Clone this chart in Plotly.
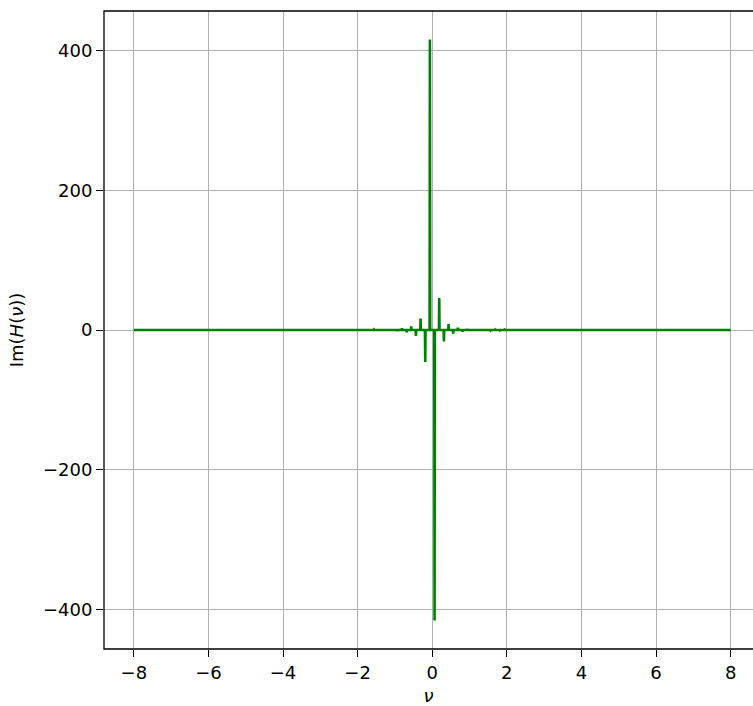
import plotly.graph_objects as go

# frequency of each nonzero spectral line and imaginary part of H(nu) there
peak_nu = [-1.9375, -1.8125, -1.6875, -1.5625, -1.4375, -1.3125, -1.1875, -1.0625,
           -0.9375, -0.8125, -0.6875, -0.5625, -0.4375, -0.3125, -0.1875, -0.0625,
           0.0625, 0.1875, 0.3125, 0.4375, 0.5625, 0.6875, 0.8125, 0.9375,
           1.0625, 1.1875, 1.3125, 1.4375, 1.5625, 1.6875, 1.8125, 1.9375]
peak_im = [-0.43, 0.5, -0.55, 0.65, -0.8, 0.95, -1.15, 1.4,
           -1.8, 2.5, -3.4, 5.1, -8.5, 16.6, -46.0, 416.0,
           -416.0, 46.0, -16.6, 8.5, -5.1, 3.4, -2.5, 1.8,
           -1.4, 1.15, -0.95, 0.8, -0.65, 0.55, -0.5, 0.43]
nu_min, nu_max = -8.0, 8.0
bin_half_width = 0.008  # spectral resolution: neighbouring samples are zero

x_ticks = [-8, -6, -4, -2, 0, 2, 4, 6, 8]
x_labels = ["\u22128", "\u22126", "\u22124", "\u22122", "0", "2", "4", "6", "8"]
y_ticks = [-400, -200, 0, 200, 400]
y_labels = ["\u2212400", "\u2212200", "0", "200", "400"]

# build the sampled spectrum: zero everywhere except at the spectral lines
nu = [nu_min]
im_h = [0.0]
for f, v in zip(peak_nu, peak_im):
    nu += [f - bin_half_width, f, f + bin_half_width]
    im_h += [0.0, v, 0.0]
nu.append(nu_max)
im_h.append(0.0)

fig = go.Figure()
fig.add_trace(go.Scatter(x=nu, y=im_h, mode="lines",
                         line=dict(color="#008000", width=2.6),
                         showlegend=False))

font = dict(family="DejaVu Sans", size=18, color="black")
fig.update_layout(
    width=753, height=706,
    margin=dict(l=104, r=0, t=11, b=57, pad=0),
    paper_bgcolor="white", plot_bgcolor="white",
    font=font,
    xaxis=dict(range=[-8.8, 8.6], tickvals=x_ticks, ticktext=x_labels,
               showgrid=True, gridcolor="#b0b0b0", gridwidth=1.3,
               zeroline=False, ticks="outside", ticklen=7, tickwidth=1.2,
               tickcolor="black", showline=False,
               title=dict(text="<i>\u03bd</i>", font=font, standoff=8)),
    yaxis=dict(range=[-457, 457], tickvals=y_ticks, ticktext=y_labels,
               showgrid=True, gridcolor="#b0b0b0", gridwidth=1.3,
               zeroline=False, ticks="outside", ticklen=7, tickwidth=1.2,
               tickcolor="black", showline=False,
               title=dict(text="Im(<i>H</i>(<i>\u03bd</i>))", font=font, standoff=14)),
    shapes=[dict(type="rect", xref="paper", yref="paper", x0=0, x1=1.02, y0=0, y1=1,
                 line=dict(color="black", width=1.3), fillcolor="rgba(0,0,0,0)",
                 layer="above")],
)

fig.write_html("out.html",
               config={"displayModeBar": False},
               post_script="document.body.style.margin='0';document.body.style.overflow='hidden';")
